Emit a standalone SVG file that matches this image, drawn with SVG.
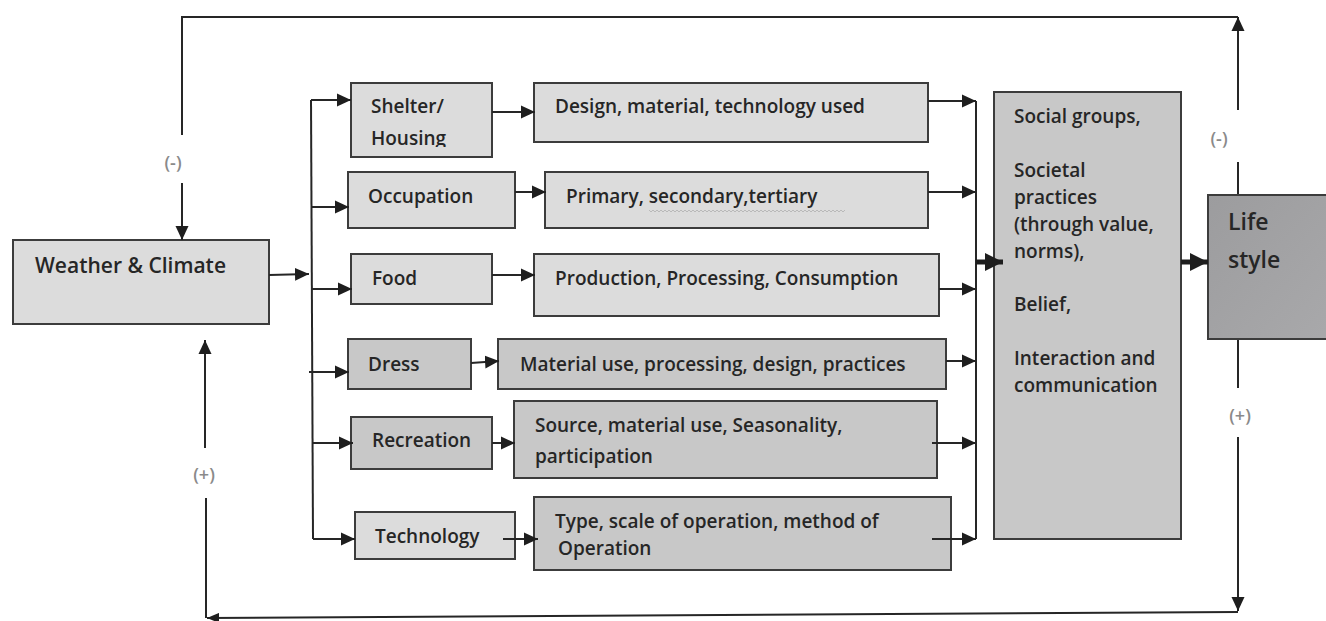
<svg xmlns="http://www.w3.org/2000/svg" width="1326" height="621" viewBox="0 0 1326 621">
<defs>
<marker id="ah" markerUnits="userSpaceOnUse" markerWidth="14" markerHeight="14" refX="14" refY="7" orient="auto"><path d="M0,0.5 L14,7 L0,13.5 z" fill="#1e1e1e"/></marker>
<marker id="ahs" markerUnits="userSpaceOnUse" markerWidth="12" markerHeight="10" refX="12" refY="5" orient="auto"><path d="M0,0 L12,5 L0,10 z" fill="#1e1e1e"/></marker>
<marker id="ahb" markerUnits="userSpaceOnUse" markerWidth="19" markerHeight="19" refX="18" refY="9" orient="auto"><path d="M0,0 L18,9 L0,18 z" fill="#1e1e1e"/></marker>
<linearGradient id="gLife" x1="0" y1="0" x2="1" y2="1"><stop offset="0" stop-color="#9c9c9e"/><stop offset="1" stop-color="#a9a9ab"/></linearGradient>
<clipPath id="clipShelter"><rect x="351" y="83" width="141" height="64"/></clipPath>
</defs>
<style>
.light{fill:#dcdcdc;stroke:#3c3c3c;stroke-width:2}
.dark{fill:#c8c8c8;stroke:#3c3c3c;stroke-width:2}
.t{font-family:"Open Sans","DejaVu Sans",sans-serif;font-weight:600;font-size:19px;fill:#262626}
.lbl{font-family:"Open Sans","DejaVu Sans",sans-serif;font-weight:600;font-size:18px;fill:#8a8a8a;text-anchor:middle}
.c{fill:none;stroke:#262626;stroke-width:2}
.cb{fill:none;stroke:#1e1e1e;stroke-width:5}
</style>
<rect width="1326" height="621" fill="#ffffff"/>

<g id="weather"><rect class="light" x="13" y="240" width="256" height="84"/><text class="t" x="35" y="273" style="font-size:21px">Weather &amp; Climate</text></g>

<g id="shelter"><rect class="light" x="351" y="83" width="141" height="74"/><g clip-path="url(#clipShelter)"><text class="t" x="371" y="113">Shelter/</text><text class="t" x="371" y="145">Housing</text></g></g>
<g id="design"><rect class="light" x="534" y="83" width="394" height="59"/><text class="t" x="555" y="113">Design, material, technology used</text></g>

<g id="occupation"><rect class="light" x="348" y="172" width="167" height="56"/><text class="t" x="368" y="203">Occupation</text></g>
<g id="primary"><rect class="light" x="545" y="172" width="383" height="56"/><text class="t" x="566" y="203">Primary, secondary,tertiary</text><path d="M649,210 l2,2 2,-2 2,2 2,-2 2,2 2,-2 2,2 2,-2 2,2 2,-2 2,2 2,-2 2,2 2,-2 2,2 2,-2 2,2 2,-2 2,2 2,-2 2,2 2,-2 2,2 2,-2 2,2 2,-2 2,2 2,-2 2,2 2,-2 2,2 2,-2 2,2 2,-2 2,2 2,-2 2,2 2,-2 2,2 2,-2 2,2 2,-2 2,2 2,-2 2,2 2,-2 2,2 2,-2 2,2 2,-2 2,2 2,-2 2,2 2,-2 2,2 2,-2 2,2 2,-2 2,2 2,-2 2,2 2,-2 2,2 2,-2 2,2 2,-2 2,2 2,-2 2,2 2,-2 2,2 2,-2 2,2 2,-2 2,2 2,-2 2,2 2,-2 2,2 2,-2 2,2 2,-2 2,2 2,-2 2,2 2,-2 2,2 2,-2 2,2 2,-2 2,2 2,-2 2,2 2,-2 2,2 2,-2 2,2 2,-2" fill="none" stroke="#b4b4b4" stroke-width="0.9"/></g>

<g id="food"><rect class="light" x="351" y="254" width="141" height="50"/><text class="t" x="372" y="285">Food</text></g>
<g id="production"><rect class="light" x="534" y="254" width="405" height="62"/><text class="t" x="555" y="285">Production, Processing, Consumption</text></g>

<g id="dress"><rect class="dark" x="348" y="339" width="123" height="50"/><text class="t" x="368" y="371">Dress</text></g>
<g id="material"><rect class="dark" x="498" y="339" width="448" height="50"/><text class="t" x="520" y="371">Material use, processing, design, practices</text></g>

<g id="recreation"><rect class="dark" x="351" y="417" width="141" height="52"/><text class="t" x="372" y="447">Recreation</text></g>
<g id="source"><rect class="dark" x="514" y="401" width="423" height="77"/><text class="t" x="535" y="432">Source, material use, Seasonality,</text><text class="t" x="535" y="463">participation</text></g>

<g id="technology"><rect class="light" x="355" y="512" width="160" height="47"/><text class="t" x="375" y="543">Technology</text></g>
<g id="type"><rect class="dark" x="534" y="497" width="417" height="73"/><text class="t" x="555" y="528">Type, scale of operation, method of</text><text class="t" x="558" y="555">Operation</text></g>

<g id="social"><rect class="dark" x="994" y="92" width="187" height="447"/>
<text class="t" x="1014" y="123">Social groups,</text>
<text class="t" x="1014" y="177">Societal</text>
<text class="t" x="1014" y="204">practices</text>
<text class="t" x="1014" y="231">(through value,</text>
<text class="t" x="1014" y="258">norms),</text>
<text class="t" x="1014" y="311">Belief,</text>
<text class="t" x="1014" y="365">Interaction and</text>
<text class="t" x="1014" y="392">communication</text>
</g>

<g id="lifestyle"><rect x="1208" y="195" width="130" height="144" fill="url(#gLife)" stroke="#3c3c3c" stroke-width="2"/><text class="t" x="1228" y="230" style="font-size:23px">Life</text><text class="t" x="1228" y="268" style="font-size:23px">style</text></g>

<g id="labels">
<text class="lbl" x="173" y="169">(-)</text>
<text class="lbl" x="1219" y="145">(-)</text>
<text class="lbl" x="204" y="481">(+)</text>
<text class="lbl" x="1240" y="422">(+)</text>
</g>

<g id="connectors">
<path class="c" d="M1238,194 V162"/>
<path class="c" d="M1238,110 V17" marker-end="url(#ah)"/>
<path class="c" d="M1238,17 H182 V135"/>
<path class="c" d="M182,183 V240" marker-end="url(#ah)"/>
<path class="c" d="M1238,340 V388"/>
<path class="c" d="M1238,437 V611" marker-end="url(#ah)"/>
<path class="c" d="M1238,612 L207,618" marker-end="url(#ahs)"/>
<path class="c" d="M206,618 V498"/>
<path class="c" d="M205,448 V340" marker-end="url(#ah)"/>
<path class="c" d="M269,275 L309,274" marker-end="url(#ah)"/>
<path class="c" d="M311,100 L313,539"/>
<path class="c" d="M311,100 H351" marker-end="url(#ah)"/>
<path class="c" d="M311,207 H349" marker-end="url(#ah)"/>
<path class="c" d="M312,289 H352" marker-end="url(#ah)"/>
<path class="c" d="M309,372 H349" marker-end="url(#ah)"/>
<path class="c" d="M313,443 H353" marker-end="url(#ah)"/>
<path class="c" d="M313,539 H355" marker-end="url(#ah)"/>
<path class="c" d="M492,112 H535" marker-end="url(#ah)"/>
<path class="c" d="M515,192 H546" marker-end="url(#ah)"/>
<path class="c" d="M492,275 H535" marker-end="url(#ah)"/>
<path class="c" d="M471,363 L499,361" marker-end="url(#ah)"/>
<path class="c" d="M492,443 H515" marker-end="url(#ah)"/>
<path class="c" d="M503,539 H538" marker-end="url(#ah)"/>
<path class="c" d="M928,101 H976" marker-end="url(#ah)"/>
<path class="c" d="M928,192 H976" marker-end="url(#ah)"/>
<path class="c" d="M939,289 H976" marker-end="url(#ah)"/>
<path class="c" d="M946,361 H976" marker-end="url(#ah)"/>
<path class="c" d="M932,443 H976" marker-end="url(#ah)"/>
<path class="c" d="M932,539 H976" marker-end="url(#ah)"/>
<path class="c" d="M976,101 V539"/>
<path class="cb" d="M976,262 H1003" marker-end="url(#ahb)"/>
<path class="cb" d="M1181,262 H1208" marker-end="url(#ahb)"/>
</g>
</svg>
